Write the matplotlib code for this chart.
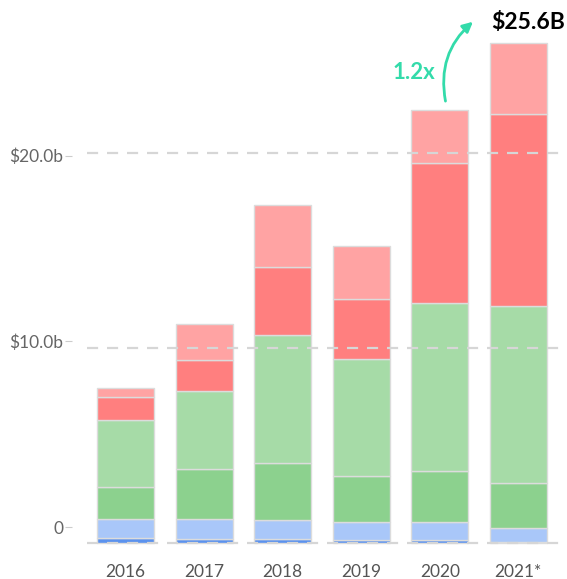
import numpy as np
import matplotlib.pyplot as plt

years = ['2016', '2017', '2018', '2019', '2020', '2021*']

# stacked segments, bottom to top (in $B)
seg_blue = [0.26, 0.20, 0.20, 0.15, 0.15, 0.05]
seg_light_blue = [0.97, 1.03, 0.98, 0.92, 0.92, 0.72]
seg_green = [1.63, 2.56, 2.91, 2.36, 2.61, 2.30]
seg_light_green = [3.43, 3.98, 6.55, 5.98, 8.60, 9.05]
seg_red = [1.18, 1.59, 3.48, 3.07, 7.21, 9.88]
seg_pink = [0.46, 1.84, 3.22, 2.76, 2.71, 3.60]

segments = [seg_blue, seg_light_blue, seg_green, seg_light_green, seg_red, seg_pink]
colors = ['#5b92ee', '#a9c7f9', '#8cd18e', '#a6dba7', '#ff7f7f', '#ffa3a3']

grid_vals = [0, 10, 20]
tick_pos = [0.82, 10.33, 19.85]
tick_labels = ['0', '$10.0b', '$20.0b']

plt.rcParams['font.family'] = ['Lato', 'DejaVu Sans']
fig = plt.figure(figsize=(5.67, 5.79), dpi=100)
ax = fig.add_axes([0.1534, 0.0453, 0.8466, 0.954])

x = np.arange(len(years))
bottom = np.zeros(len(years))
for vals, c in zip(segments, colors):
    ax.bar(x, vals, width=0.725, bottom=bottom, color=c,
           edgecolor='#dcdcdc', linewidth=1, zorder=2)
    bottom += np.array(vals)

# dashed gridlines drawn over the bars
for g in grid_vals:
    ax.axhline(g, color='#d6d6d6', lw=1.6, ls=(0, (5, 4)), zorder=3)

ax.set_xlim(-0.49, 5.62)
ax.set_ylim(-0.5, 27.8)
ax.set_xticks(x)
ax.set_xticklabels(years)
ax.tick_params(axis='x', length=0, pad=8, labelsize=12.5, labelcolor='#555555')
ax.set_yticks(tick_pos)
ax.set_yticklabels(tick_labels)
ax.tick_params(axis='y', length=5, color='#cccccc', pad=1,
               labelsize=12.5, labelcolor='#666666')
ax.spines['left'].set_position(('outward', 11))
for s in ax.spines.values():
    s.set_visible(False)

teal = '#33dbaa'
ax.annotate('', xy=(4.45, 26.8), xytext=(4.08, 22.5),
            arrowprops=dict(arrowstyle='-|>', color=teal, lw=2,
                            mutation_scale=15,
                            connectionstyle='arc3,rad=-0.3'))
ax.text(3.67, 24.1, '1.2x', color=teal, fontsize=16, fontweight='bold',
        ha='center', va='center')
ax.text(5.12, 26.65, '$25.6B', color='black', fontsize=16.5, fontweight='bold',
        ha='center', va='center')

fig.savefig('out.png', dpi=100)
